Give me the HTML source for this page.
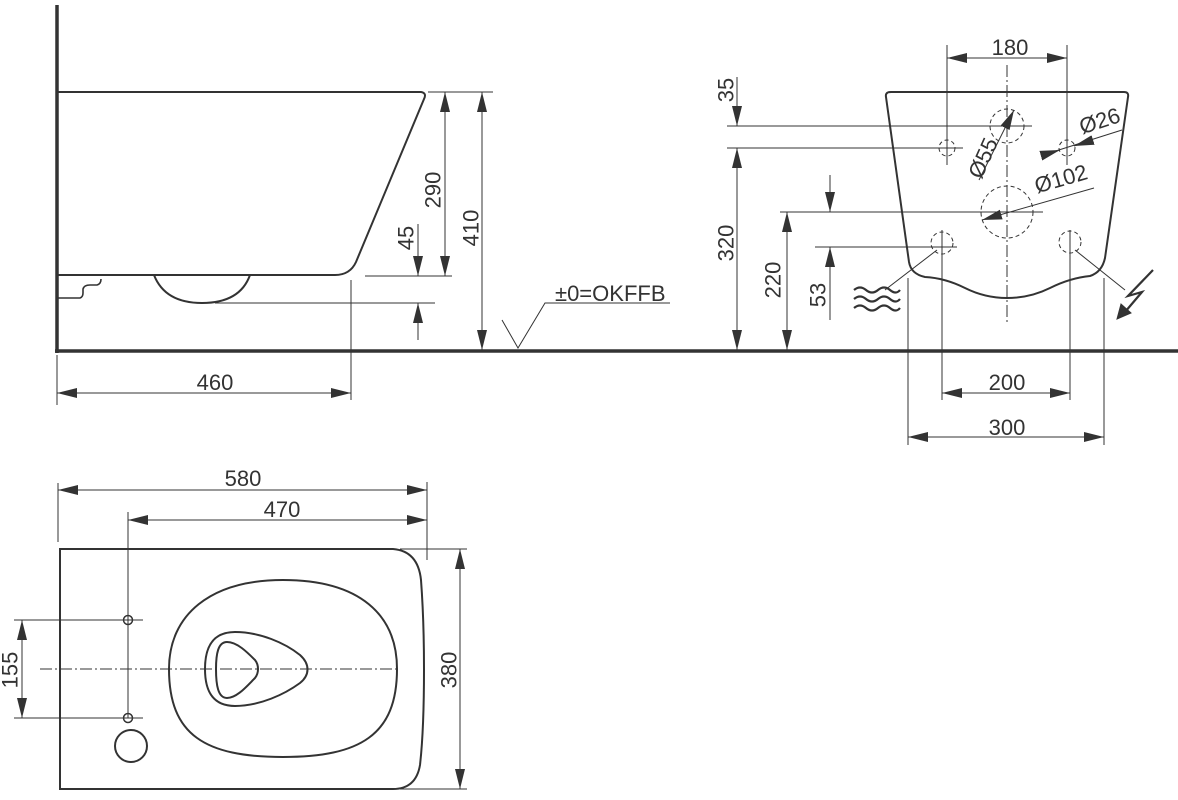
<!DOCTYPE html>
<html><head><meta charset="utf-8"><style>
html,body{margin:0;padding:0;background:#fff;}
svg{display:block;}
text{font-family:"Liberation Sans",sans-serif;font-size:22px;fill:#333;}
</style></head><body>
<svg width="1178" height="800" viewBox="0 0 1178 800" xmlns="http://www.w3.org/2000/svg">
<defs>
<marker id="a" markerWidth="20" markerHeight="10" refX="20" refY="5" orient="auto-start-reverse" markerUnits="userSpaceOnUse">
<path d="M0,0 L20,5 L0,10 Z" fill="#333"/>
</marker>
</defs>
<g stroke="#333" fill="none">
<line x1="57" y1="5" x2="57" y2="353" stroke-width="3.5"/>
<line x1="55" y1="351" x2="1178" y2="351" stroke-width="3.5"/>
<path d="M58,92 L421,92 Q427,93 424,99 L356,262 Q350,275 335,275 L58,275" stroke-width="2"/>
<path d="M154,275 Q165,303 202,303 Q240,303 250,275" stroke-width="2"/>
<path d="M58,298 L80,298 Q83,297 83,293 L83,289 Q84,285 90,285 L97,285 Q101,284 101,279" stroke-width="1.6"/>
<g stroke-width="1">
<line x1="215" y1="303" x2="435" y2="303"/>
<line x1="365" y1="276" x2="452" y2="276"/>
<line x1="428" y1="92" x2="493" y2="92"/>
<line x1="351" y1="280" x2="351" y2="400"/>
<line x1="57" y1="355" x2="57" y2="405"/>
<line x1="445" y1="92" x2="445" y2="276" marker-start="url(#a)" marker-end="url(#a)"/>
<line x1="482" y1="92" x2="482" y2="350" marker-start="url(#a)" marker-end="url(#a)"/>
<line x1="418" y1="224" x2="418" y2="276" marker-end="url(#a)"/>
<line x1="418" y1="340" x2="418" y2="303" marker-end="url(#a)"/>
<line x1="57" y1="393" x2="351" y2="393" marker-start="url(#a)" marker-end="url(#a)"/>
<path d="M502,320 L518,348 L545,303 L670,303"/>
</g>
<path d="M891,92 L1124,92 Q1129,92 1128,97 L1105,258 Q1102,272 1090,276 Q1070,278 1050,288 Q1030,298 1007,298 Q985,298 965,288 Q945,278 925,277 Q911,274 909,262 L886,97 Q885,92 891,92 Z" stroke-width="2"/>
<line x1="1007" y1="65" x2="1007" y2="325" stroke-width="1" stroke-dasharray="12,3,2,3"/>
<g stroke-width="1" stroke-dasharray="4,3">
<circle cx="947" cy="148" r="8"/>
<circle cx="1067" cy="148" r="8"/>
<circle cx="1007" cy="126" r="17"/>
<circle cx="1007" cy="212" r="26"/>
<circle cx="942" cy="243" r="11"/>
<circle cx="1070" cy="242" r="11"/>
</g>
<g stroke-width="1">
<line x1="947" y1="45" x2="947" y2="165"/>
<line x1="1067" y1="45" x2="1067" y2="165"/>
<line x1="947" y1="58" x2="1067" y2="58" marker-start="url(#a)" marker-end="url(#a)"/>
<line x1="727" y1="126" x2="1032" y2="126"/>
<line x1="727" y1="148" x2="963" y2="148"/>
<line x1="737" y1="77" x2="737" y2="126" marker-end="url(#a)"/>
<line x1="737" y1="148" x2="737" y2="350" marker-start="url(#a)" marker-end="url(#a)"/>
<line x1="780" y1="212" x2="1043" y2="212"/>
<line x1="815" y1="247" x2="957" y2="247"/>
<line x1="787" y1="212" x2="787" y2="350" marker-start="url(#a)" marker-end="url(#a)"/>
<line x1="830" y1="175" x2="830" y2="212" marker-end="url(#a)"/>
<line x1="830" y1="320" x2="830" y2="247" marker-end="url(#a)"/>
<line x1="979" y1="180" x2="1014" y2="110" marker-end="url(#a)"/>
<line x1="982" y1="220" x2="1094" y2="188" marker-start="url(#a)"/>
<line x1="1043" y1="155" x2="1122" y2="130"/>
<line x1="1043" y1="155" x2="1060" y2="150" marker-end="url(#a)"/>
<line x1="1090" y1="141" x2="1074" y2="146" marker-end="url(#a)"/>
<line x1="885" y1="290" x2="937" y2="250"/>
<line x1="1125" y1="290" x2="1075" y2="250"/>
<line x1="908" y1="278" x2="908" y2="445"/>
<line x1="942" y1="230" x2="942" y2="400"/>
<line x1="1070" y1="230" x2="1070" y2="400"/>
<line x1="1104" y1="278" x2="1104" y2="445"/>
<line x1="942" y1="393" x2="1070" y2="393" marker-start="url(#a)" marker-end="url(#a)"/>
<line x1="908" y1="437" x2="1104" y2="437" marker-start="url(#a)" marker-end="url(#a)"/>
</g>
<g stroke-width="2.2">
<path d="M854,290 q6,-5 12,0 t12,0 t12,0 t10,0"/>
<path d="M854,299 q6,-5 12,0 t12,0 t12,0 t10,0"/>
<path d="M854,308 q6,-5 12,0 t12,0 t12,0 t10,0"/>
</g>
<path d="M1153,270 L1128,296 L1142,292 L1125,312" stroke-width="2.2"/>
<path d="M1117,319 L1121,304 L1131,313 Z" fill="#333" stroke-width="1"/>
<path d="M60,549 L393,549 Q418,551 421,580 Q424,620 424,669 Q424,730 420,765 Q416,789 393,789 L60,789 Z" stroke-width="2"/>
<path d="M283,580 C360,580 397,615 397,669 C397,735 360,757 283,757 C205,757 169,735 169,669 C169,615 210,580 283,580 Z" stroke-width="2"/>
<path d="M235,632 C260,632 285,643 300,655 C310,664 310,675 300,683 C285,694 260,706 235,706 C212,706 205,690 205,669 C205,648 212,632 235,632 Z" stroke-width="2"/>
<path d="M227,642 C237,642 247,652 255,660 C259,665 259,673 255,678 C247,686 237,698 227,698 C218,698 216,685 216,669 C216,654 218,642 227,642 Z" stroke-width="2"/>
<circle cx="128" cy="620" r="4.5" stroke-width="1.5"/>
<circle cx="128" cy="718" r="4.5" stroke-width="1.5"/>
<circle cx="131" cy="746" r="16" stroke-width="2"/>
<line x1="40" y1="669" x2="400" y2="669" stroke-width="1" stroke-dasharray="12,3,2,3"/>
<g stroke-width="1">
<line x1="128" y1="512" x2="128" y2="718"/>
<line x1="58" y1="483" x2="58" y2="542"/>
<line x1="427" y1="482" x2="427" y2="560"/>
<line x1="58" y1="490" x2="427" y2="490" marker-start="url(#a)" marker-end="url(#a)"/>
<line x1="128" y1="520" x2="427" y2="520" marker-start="url(#a)" marker-end="url(#a)"/>
<line x1="400" y1="549" x2="467" y2="549"/>
<line x1="400" y1="789" x2="467" y2="789"/>
<line x1="460" y1="549" x2="460" y2="789" marker-start="url(#a)" marker-end="url(#a)"/>
<line x1="14" y1="620" x2="143" y2="620"/>
<line x1="14" y1="718" x2="143" y2="718"/>
<line x1="22" y1="620" x2="22" y2="718" marker-start="url(#a)" marker-end="url(#a)"/>
</g>
</g>
<text x="433" y="190" text-anchor="middle" dominant-baseline="central" transform="rotate(-90 433 190)">290</text>
<text x="471" y="228" text-anchor="middle" dominant-baseline="central" transform="rotate(-90 471 228)">410</text>
<text x="406" y="238" text-anchor="middle" dominant-baseline="central" transform="rotate(-90 406 238)">45</text>
<text x="215" y="390" text-anchor="middle">460</text>
<text x="555" y="301">±0=OKFFB</text>
<text x="1010" y="55" text-anchor="middle">180</text>
<text x="726" y="90" text-anchor="middle" dominant-baseline="central" transform="rotate(-90 726 90)">35</text>
<text x="726" y="243" text-anchor="middle" dominant-baseline="central" transform="rotate(-90 726 243)">320</text>
<text x="773" y="280" text-anchor="middle" dominant-baseline="central" transform="rotate(-90 773 280)">220</text>
<text x="818" y="295" text-anchor="middle" dominant-baseline="central" transform="rotate(-90 818 295)">53</text>
<text x="983" y="158" text-anchor="middle" dominant-baseline="central" transform="rotate(-66 983 158)">Ø55</text>
<text x="1063" y="186" text-anchor="middle" transform="rotate(-16 1063 186)">Ø102</text>
<text x="1102" y="128" text-anchor="middle" transform="rotate(-18 1102 128)">Ø26</text>
<text x="1007" y="390" text-anchor="middle">200</text>
<text x="1007" y="435" text-anchor="middle">300</text>
<text x="243" y="486" text-anchor="middle">580</text>
<text x="282" y="517" text-anchor="middle">470</text>
<text x="449" y="670" text-anchor="middle" dominant-baseline="central" transform="rotate(-90 449 670)">380</text>
<text x="10" y="670" text-anchor="middle" dominant-baseline="central" transform="rotate(-90 10 670)">155</text>
</svg>
</body></html>
